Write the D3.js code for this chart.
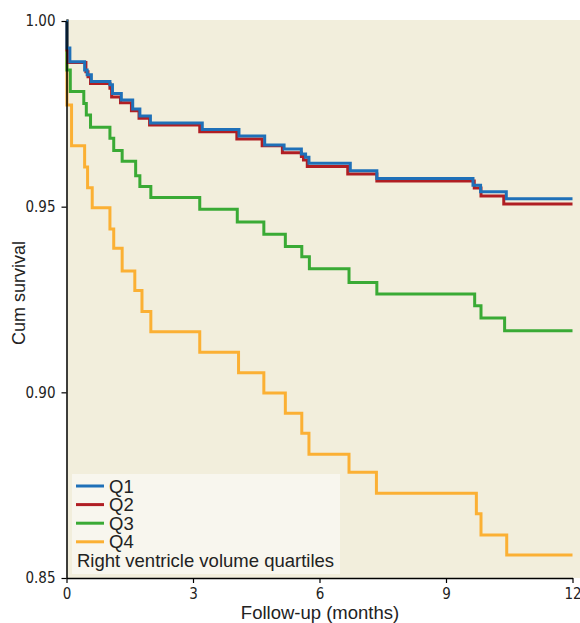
<!DOCTYPE html>
<html>
<head>
<meta charset="utf-8">
<script src="https://cdn.jsdelivr.net/npm/d3@7"></script>
<style>
body { margin: 0; background: #fff; }
svg { display: block; }
</style>
</head>
<body>
<script>
// survival steps: [time in months, survival after the drop]
var q1 = [[0,1],[0.01,0.9927],[0.08,0.9890],[0.43,0.9868],[0.49,0.9855],[0.59,0.9837],[1.03,0.9828],[1.09,0.9805],[1.30,0.9787],[1.57,0.9763],[1.74,0.9744],[1.99,0.9725],[3.22,0.9708],[4.09,0.9690],[4.70,0.9666],[5.16,0.9655],[5.57,0.9642],[5.67,0.9633],[5.75,0.9617],[6.73,0.9597],[7.36,0.9576],[9.64,0.9558],[9.82,0.9540],[10.43,0.9521],[12,0.9521]];
var q2 = [[0,1],[0.01,0.9922],[0.04,0.9888],[0.46,0.9863],[0.51,0.9850],[0.57,0.9832],[1.03,0.9819],[1.07,0.9795],[1.28,0.9780],[1.54,0.9758],[1.72,0.9738],[1.97,0.9720],[3.16,0.9702],[4.04,0.9682],[4.64,0.9664],[5.12,0.9645],[5.57,0.9635],[5.62,0.9626],[5.71,0.9608],[6.67,0.9588],[7.36,0.9569],[9.67,0.9550],[9.83,0.9529],[10.37,0.9507],[12,0.9507]];
var q3 = [[0,1],[0.01,0.9868],[0.09,0.9810],[0.41,0.9778],[0.47,0.9747],[0.57,0.9714],[1.03,0.9684],[1.12,0.9651],[1.32,0.9622],[1.64,0.9583],[1.74,0.9554],[2.00,0.9525],[3.16,0.9493],[4.05,0.9459],[4.68,0.9426],[5.19,0.9393],[5.58,0.9365],[5.76,0.9333],[6.70,0.9296],[7.36,0.9265],[9.68,0.9233],[9.83,0.9200],[10.39,0.9166],[12,0.9166]];
var q4 = [[0,1],[0.01,0.9774],[0.12,0.9664],[0.43,0.9607],[0.50,0.9551],[0.61,0.9497],[1.03,0.9440],[1.12,0.9388],[1.32,0.9327],[1.62,0.9274],[1.79,0.9218],[2.00,0.9163],[3.16,0.9108],[4.08,0.9053],[4.68,0.8998],[5.19,0.8944],[5.58,0.8890],[5.75,0.8833],[6.70,0.8785],[7.35,0.8728],[9.72,0.8673],[9.83,0.8616],[10.44,0.8562],[12,0.8562]];

var groups = ["Q1","Q2","Q3","Q4"];
var colors = ["#1f70b8","#b01e23","#3aaa35","#fbb034"];
var xTicks = [0,3,6,9,12];
var yTicks = [0.85,0.90,0.95,1.00];

var W = 580, H = 623;
var svg = d3.select("body").append("svg").attr("width", W).attr("height", H);

var x = d3.scaleLinear().domain([0,12]).range([66.5,572.5]);
var y = d3.scaleLinear().domain([0.85,1.00]).range([578,21]);

// plot background
svg.append("rect").attr("x", 66.5).attr("y", 20).attr("width", W - 66.5).attr("height", 558)
  .attr("fill", "#f2eedc");

var line = d3.line().x(function(d){return x(d[0]);}).y(function(d){return y(d[1]);}).curve(d3.curveStepAfter);

var series = [q1,q2,q3,q4];
// draw back to front so Q1 sits on top
for (var i = series.length - 1; i >= 0; i--) {
  svg.append("path").datum(series[i]).attr("d", line)
    .attr("fill","none").attr("stroke", colors[i]).attr("stroke-width", 3)
    .attr("stroke-linejoin","miter");
}

// axes
var tickFont = "'Liberation Sans Narrow', 'DejaVu Sans Condensed', sans-serif";
var gx = svg.append("g").attr("transform","translate(0,578)")
  .call(d3.axisBottom(x).tickValues(xTicks).tickFormat(d3.format("d")).tickSize(5).tickSizeOuter(0));
var gy = svg.append("g").attr("transform","translate(66.5,0)")
  .call(d3.axisLeft(y).tickValues(yTicks).tickFormat(d3.format(".2f")).tickSize(5).tickSizeOuter(0));
[gx, gy].forEach(function(g){
  g.select(".domain").attr("stroke","#000").attr("stroke-width",1.5);
  g.selectAll(".tick line").attr("stroke","#000").attr("stroke-width",1.2);
  g.selectAll(".tick text").attr("fill","#222").style("font-family", tickFont).style("font-size","15px");
});
gx.selectAll(".tick text").attr("dy","0.85em");
gy.selectAll(".tick text").attr("dx","-0.2em");

var labelFont = "'Liberation Sans', Arial, sans-serif";
svg.append("text").attr("x", 320).attr("y", 619).attr("text-anchor","middle")
  .style("font-family", labelFont).style("font-size","18.5px").attr("fill","#222").text("Follow-up (months)");
svg.append("text").attr("transform","translate(25,293) rotate(-90)").attr("text-anchor","middle")
  .style("font-family", labelFont).style("font-size","18px").attr("fill","#222").text("Cum survival");

// legend
var lg = svg.append("g");
lg.append("rect").attr("x", 72).attr("y", 474).attr("width", 268).attr("height", 100).attr("fill","#f8f6ee");
groups.forEach(function(g, i){
  var yy = 486 + i * 18.6;
  lg.append("line").attr("x1", 76).attr("x2", 104).attr("y1", yy).attr("y2", yy)
    .attr("stroke", colors[i]).attr("stroke-width", 3);
  lg.append("text").attr("x", 109).attr("y", yy).attr("dy","0.36em")
    .style("font-family", labelFont).style("font-size","18.5px").attr("fill","#222").text(g);
});
lg.append("text").attr("x", 77).attr("y", 560.5).attr("dy","0.36em")
  .style("font-family", labelFont).style("font-size","18.5px").attr("fill","#222").text("Right ventricle volume quartiles");
</script>
</body>
</html>
